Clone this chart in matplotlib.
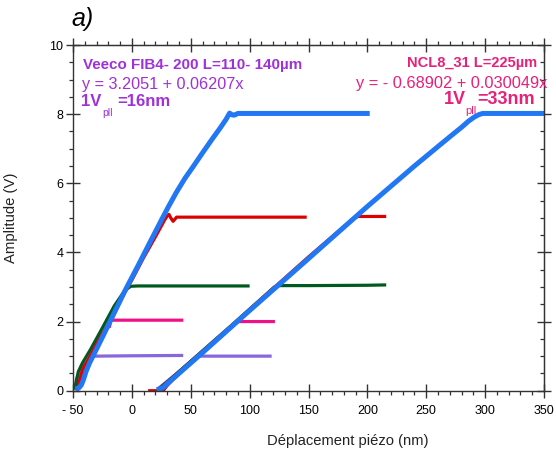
import matplotlib
matplotlib.use("Agg")
import matplotlib.pyplot as plt
from matplotlib.ticker import MultipleLocator

plt.rcParams['font.family'] = ['Liberation Sans', 'DejaVu Sans']

# ---- data ----
# Veeco FIB4-200 group (left)
purple_L_x = [-48.5, -47, -44, -40, -35, -33, -30, 0, 43.6]
purple_L_y = [0.05, 0.35, 0.55, 0.75, 0.95, 1.0, 1.0, 1.01, 1.02]
pink_L_x = [-47, -40, -30, -21, -19.5, -19, -18, -16, 0, 20, 43.7]
pink_L_y = [0.1, 0.7, 1.3, 1.85, 1.95, 1.85, 2.02, 2.04, 2.04, 2.04, 2.04]
green_L_x = [-48.5, -47, -45.5, -42, -35, -25, -15, -6, -3, -1, 5, 50, 100]
green_L_y = [0.03, 0.3, 0.55, 0.8, 1.2, 1.82, 2.45, 2.9, 2.97, 3.02, 3.03, 3.03, 3.03]
red_L_x = [-46.5, -45, -42, -38, -30, -20, -10, 0, 10, 20, 28, 30, 31.5, 33, 35, 38, 60, 100, 148.5]
red_L_y = [0.0, 0.2, 0.6, 0.85, 1.35, 1.95, 2.6, 3.2, 3.85, 4.45, 4.95, 5.05, 5.1, 5.0, 4.9, 5.02, 5.02, 5.02, 5.02]
blue_L_x = [-48, -45, -43, -41, -39, -36, -32, -25, -15, -5, 5, 15, 25, 31, 38, 45, 52, 60, 68, 75, 80, 83, 85, 87, 90, 120, 160, 202]
blue_L_y = [0.05, 0.08, 0.16, 0.33, 0.55, 0.8, 1.07, 1.55, 2.25, 2.95, 3.6, 4.27, 4.93, 5.32, 5.75, 6.14, 6.48, 6.88, 7.27, 7.6, 7.85, 8.03, 7.98, 7.97, 8.02, 8.02, 8.02, 8.02]

# NCL8_31 group (right)
purple_R_x = [22, 40, 55, 57, 80, 118.7]
purple_R_y = [0.05, 0.55, 0.98, 1.0, 1.0, 1.0]
pink_R_x = [23, 40, 70, 88, 90, 121.5]
pink_R_y = [0.05, 0.55, 1.45, 1.98, 2.0, 2.0]
green_R_x = [22, 30, 40, 80, 121, 124, 150, 200, 216]
green_R_y = [0.03, 0.25, 0.55, 1.75, 3.0, 3.04, 3.04, 3.05, 3.06]
red_R_x = [13.8, 22, 27, 30, 40, 100, 150, 188, 192, 196, 216]
red_R_y = [0.0, 0.0, 0.02, 0.15, 0.5, 2.35, 3.87, 4.98, 5.04, 5.04, 5.04]
blue_R_x = [21, 24, 27, 30, 35, 40, 60, 100, 143, 199, 240, 262, 272, 280, 286, 291, 295, 298, 350]
blue_R_y = [0.03, 0.05, 0.1, 0.2, 0.35, 0.5, 1.1, 2.32, 3.61, 5.3, 6.5, 7.12, 7.4, 7.62, 7.8, 7.92, 7.99, 8.02, 8.02]

x_ticks = [-50, 0, 50, 100, 150, 200, 250, 300, 350]
x_tick_labels = ["- 50", "0", "50", "100", "150", "200", "250", "300", "350"]
y_ticks = [0, 2, 4, 6, 8, 10]

C_BLUE = "#2277F5"
C_RED = "#DD0000"
C_GREEN = "#005A1E"
C_PINK = "#EE1188"
C_PURPLE = "#8866DD"
T_PURPLE = "#A030D8"
T_PINK = "#E8207A"

fig = plt.figure(figsize=(5.56, 4.5), dpi=100)
ax = fig.add_axes([73/556, 1-390.7/450, (544-73)/556, (390.7-45)/450])

lw_thin = 2.3
lw_thick = 3.6
for xs, ys, c, lw in [
    (purple_L_x, purple_L_y, C_PURPLE, lw_thin),
    (purple_R_x, purple_R_y, C_PURPLE, lw_thin),
    (pink_L_x, pink_L_y, C_PINK, lw_thin),
    (pink_R_x, pink_R_y, C_PINK, lw_thin),
    (green_L_x, green_L_y, C_GREEN, lw_thin),
    (green_R_x, green_R_y, C_GREEN, lw_thin),
    (red_L_x, red_L_y, C_RED, lw_thin),
    (red_R_x, red_R_y, C_RED, lw_thin),
    (blue_L_x, blue_L_y, C_BLUE, lw_thick),
    (blue_R_x, blue_R_y, C_BLUE, lw_thick),
]:
    ax.plot(xs, ys, color=c, lw=lw, solid_capstyle='butt', solid_joinstyle='round')

ax.set_xlim(-50, 350)
ax.set_ylim(0, 10)

spine_c = "#333333"
for s in ax.spines.values():
    s.set_color(spine_c)
    s.set_linewidth(1.0)

ax.set_xticks(x_ticks)
ax.set_xticklabels(x_tick_labels)
ax.set_yticks(y_ticks)
ax.xaxis.set_minor_locator(MultipleLocator(10))
ax.yaxis.set_minor_locator(MultipleLocator(0.5))
ax.tick_params(which='major', direction='inout', length=10, width=1.0, color=spine_c,
               labelsize=9, pad=2)
ax.tick_params(which='minor', direction='out', length=3.2, width=0.9, color=spine_c)
ax.tick_params(axis='x', which='major', pad=5)

secx = ax.secondary_xaxis('top')
secx.set_xticks(x_ticks)
secx.xaxis.set_minor_locator(MultipleLocator(10))
secx.tick_params(which='major', direction='inout', length=10, width=1.0, color=spine_c, labeltop=False)
secx.tick_params(which='minor', direction='out', length=3.2, width=0.9, color=spine_c)
secx.spines['top'].set_color(spine_c)

secy = ax.secondary_yaxis('right')
secy.set_yticks(y_ticks)
secy.yaxis.set_minor_locator(MultipleLocator(0.5))
secy.tick_params(which='major', direction='inout', length=10, width=1.0, color=spine_c, labelright=False)
secy.tick_params(which='minor', direction='in', length=3.2, width=0.9, color=spine_c)
secy.spines['right'].set_color(spine_c)

ax.set_xlabel("Déplacement piézo (nm)", fontsize=10.6, color="#222222")
ax.xaxis.set_label_coords((348-73)/471, -0.125)
ax.set_ylabel("Amplitude (V)", fontsize=10.7, color="#222222")
ax.yaxis.set_label_coords(-(73-18)/471, 0.5)

def px(xp, yp):
    return (xp/556, 1-yp/450)

fig.text(*px(71, 19), "a)", fontsize=18, style='italic', va='center', ha='left')

# left annotations
fig.text(*px(83, 65), "Veeco FIB4- 200 L=110- 140µm", fontsize=10.9, fontweight='bold',
         color=T_PURPLE, va='center', ha='left')
fig.text(*px(82, 84.5), "y = 3.2051 + 0.06207x", fontsize=11.7, color=T_PURPLE, va='center', ha='left')
fig.text(*px(81, 102), "1V", fontsize=12, fontweight='bold', color=T_PURPLE, va='center', ha='left')
fig.text(*px(102, 113), "pll", fontsize=7.5, color=T_PURPLE, va='center', ha='left')
fig.text(*px(117, 102), "=16nm", fontsize=12, fontweight='bold', color=T_PURPLE, va='center', ha='left')

# right annotations
fig.text(*px(537, 63), "NCL8_31 L=225µm", fontsize=10.5, fontweight='bold',
         color=T_PINK, va='center', ha='right')
fig.text(*px(547, 83.5), "y = - 0.68902 + 0.030049x", fontsize=11.8, color=T_PINK, va='center', ha='right')
fig.text(*px(444, 99), "1V", fontsize=13, fontweight='bold', color=T_PINK, va='center', ha='left')
fig.text(*px(465, 111), "pll", fontsize=8, color=T_PINK, va='center', ha='left')
fig.text(*px(535, 99), "=33nm", fontsize=13, fontweight='bold', color=T_PINK, va='center', ha='right')

fig.savefig("out.png", dpi=100)
